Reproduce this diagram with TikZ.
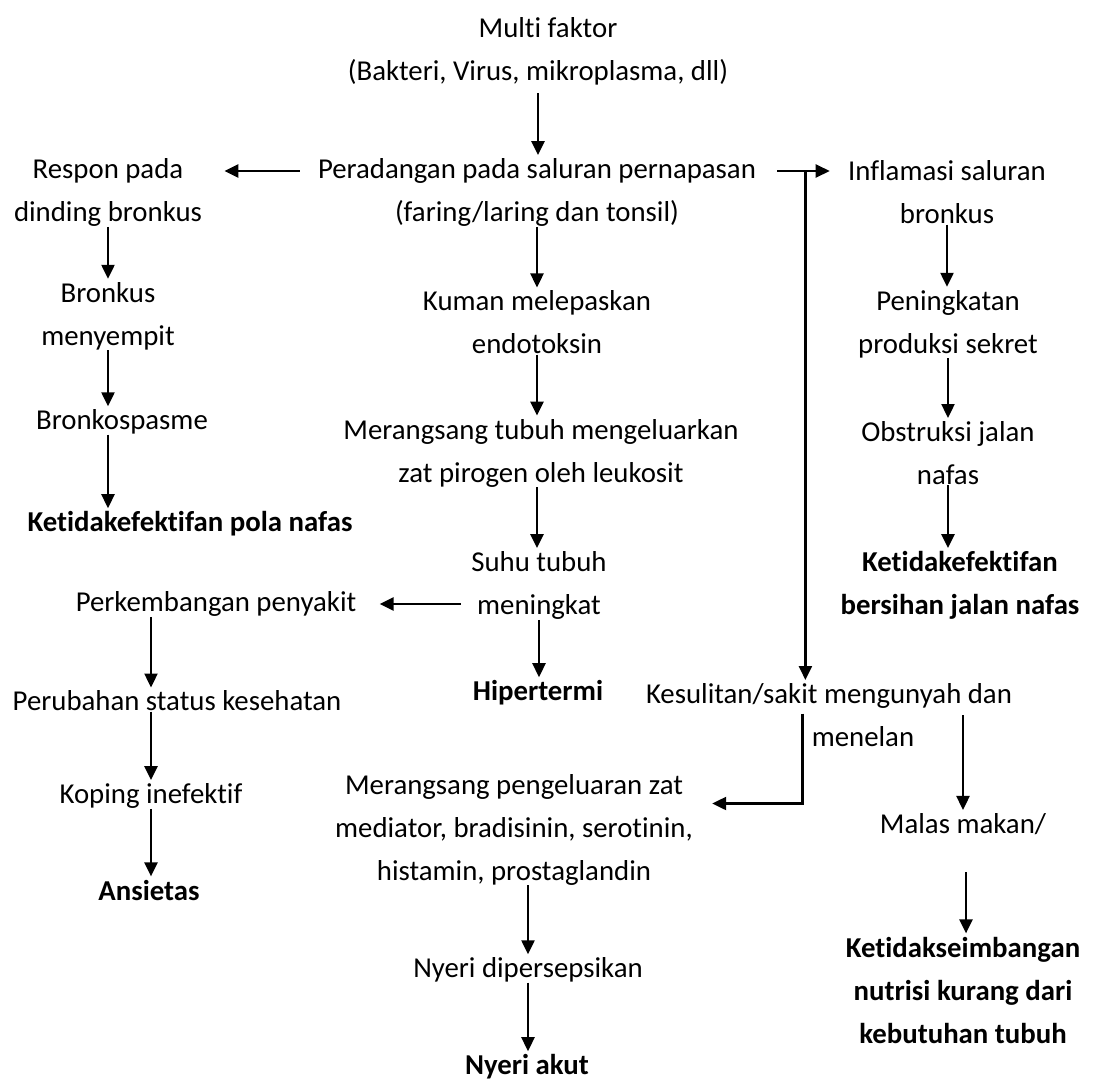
\documentclass[tikz,border=0pt]{standalone}
\usepackage{fontspec}
\setmainfont{Carlito}[Ligatures=NoCommon]
\usetikzlibrary{calc}
\usetikzlibrary{arrows.meta}

\begin{document}
\begin{tikzpicture}[x=0.5pt,y=-0.5pt,
  teks/.style={align=center,inner sep=0pt,font=\fontsize{14.4}{21.5}\selectfont},
  diagnosa/.style={teks,font=\fontsize{14.4}{21.5}\selectfont\bfseries},
  panah/.style={line width=1.2pt,shorten >=1.5pt,-{Triangle[width=6.5pt,length=7pt]}}]
  % Boundary
  \path[use as bounding box] (0,0) rectangle (1094,1082);
  % Etiologi
  \node[teks] (multi) at (548,28) {Multi faktor};
  \node[teks] (bakteri) at (538,72) {(Bakteri, Virus, mikroplasma, dll)};
  \node[teks] (radang) at (537,192.5) {Peradangan pada saluran pernapasan\\(faring/laring dan tonsil)};
  % Cabang kiri
  \node[teks] (respon) at (108,192.5) {Respon pada\\dinding bronkus};
  \node[teks] (bronkus) at (108,316) {Bronkus\\menyempit};
  \node[teks] (spasme) at (122,422) {Bronkospasme};
  \node[diagnosa] (pola) at (190,524) {Ketidakefektifan pola nafas};
  % Cabang kanan
  \node[teks] (inflamasi) at (947,192.5) {Inflamasi saluran\\bronkus};
  \node[teks] (sekret) at (948,324) {Peningkatan\\produksi sekret};
  \node[teks] (obstruksi) at (948,453) {Obstruksi jalan\\nafas};
  \node[diagnosa] (bersihan) at (960,585.5) {Ketidakefektifan\\bersihan jalan nafas};
  % Cabang tengah
  \node[teks] (kuman) at (537,322.5) {Kuman melepaskan\\endotoksin};
  \node[teks] (pirogen) at (541,453) {Merangsang tubuh mengeluarkan\\zat pirogen oleh leukosit};
  \node[teks] (suhu) at (539,585.5) {Suhu tubuh\\meningkat};
  \node[diagnosa] (hipertermi) at (538,693) {Hipertermi};
  % Ansietas
  \node[teks] (kembang) at (216,604) {Perkembangan penyakit};
  \node[teks] (ubah) at (177,701) {Perubahan status kesehatan};
  \node[teks] (koping) at (151,796) {Koping inefektif};
  \node[diagnosa] (ansietas) at (149,890) {Ansietas};
  % Nyeri dan nutrisi
  \node[teks] (sulit) at (829,715) {Kesulitan/sakit mengunyah dan\\\hspace*{34pt}menelan};
  \node[teks] (mediator) at (514,829.5) {Merangsang pengeluaran zat\\mediator, bradisinin, serotinin,\\histamin, prostaglandin};
  \node[teks] (nyeri) at (528,970) {Nyeri dipersepsikan};
  \node[diagnosa] (akut) at (527,1067) {Nyeri akut};
  \node[teks] (malas) at (963,824) {Malas makan/};
  \node[diagnosa] (nutrisi) at (963,990) {Ketidakseimbangan\\nutrisi kurang dari\\kebutuhan tubuh};
  % Panah
  \draw[panah] ($(bakteri.south)+(0,8)$) -- (bakteri.south |- radang.north);
  \draw[panah] ($(radang.west)+(-18,-21.5)$) -- ($(respon.east)+(19,-21.5)$);
  \draw[panah] ($(radang.east)+(21,-21.5)$) -- ($(inflamasi.west)+(-15,-21.5)$);
  \coordinate (cabang) at ($(radang.east)+(49,-21.5)$);
  \draw[panah] (cabang) -- (cabang |- sulit.north);
  \draw[panah] (respon.south) -- (respon.south |- bronkus.north);
  \draw[panah] (bronkus.south) -- (bronkus.south |- spasme.north);
  \draw[panah] (bronkus.south |- spasme.south) -- (bronkus.south |- pola.north);
  \draw[panah] (radang.south) -- (radang.south |- kuman.north);
  \draw[panah] (kuman.south) -- (kuman.south |- pirogen.north);
  \draw[panah] (kuman.south |- pirogen.south) -- (kuman.south |- suhu.north);
  \draw[panah] (suhu.south) -- (suhu.south |- hipertermi.north);
  \draw[panah] (inflamasi.south) -- (inflamasi.south |- sekret.north);
  \draw[panah] (sekret.south) -- (sekret.south |- obstruksi.north);
  \draw[panah] (obstruksi.south) -- (obstruksi.south |- bersihan.north);
  \draw[panah] ($(suhu.west |- kembang.east)+(-10,0)$) -- ($(kembang.east)+(20,0)$);
  \draw[panah] (koping.north |- kembang.south) -- (koping.north |- ubah.north);
  \draw[panah] (koping.north |- ubah.south) -- (koping.north);
  \draw[panah] (koping.south) -- (koping.south |- ansietas.north);
  \draw[panah] ($(sulit.west)+(157,-1.5)$) |- ($(mediator.east)+(16,-26)$);
  \draw[panah] (malas.north |- sulit.center) -- (malas.north);
  \draw[panah] ($(malas.south)+(3,37)$) -- ($(nutrisi.north)+(3,0)$);
  \draw[panah] (nyeri.north |- mediator.south) -- (nyeri.north);
  \draw[panah] (nyeri.south) -- (nyeri.south |- akut.north);
\end{tikzpicture}
\end{document}
